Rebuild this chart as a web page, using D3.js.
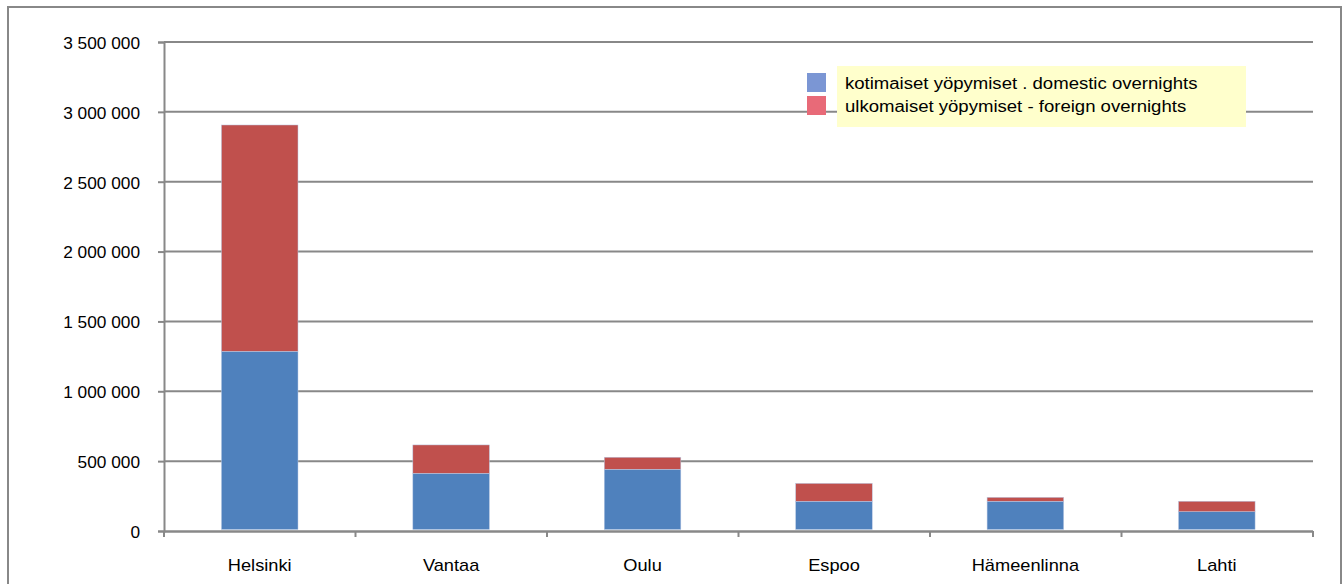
<!DOCTYPE html>
<html>
<head>
<meta charset="utf-8">
<script src="https://cdn.jsdelivr.net/npm/d3@7"></script>
<style>
  body { margin: 0; background: #fff; }
  text { font-family: "Liberation Sans", Arial, sans-serif; fill: #000; }
</style>
</head>
<body>
<script>
var width = 1343, height = 584;

// data
var cities = ["Helsinki", "Vantaa", "Oulu", "Espoo", "Hämeenlinna", "Lahti"];
var domestic = [1286000, 413000, 442000, 213000, 213000, 138000];
var foreign = [1620000, 203000, 86000, 128000, 28000, 75000];
var yTicks = [0, 500000, 1000000, 1500000, 2000000, 2500000, 3000000, 3500000];
var seriesNames = ["kotimaiset yöpymiset . domestic overnights", "ulkomaiset yöpymiset - foreign overnights"];

var margin = {left: 164, right: 30, top: 42, bottom: 53};

var svg = d3.select("body")
  .append("svg")
  .attr("width", width)
  .attr("height", height);

// outer frame
svg.append("rect")
  .attr("x", 8).attr("y", 7)
  .attr("width", 1333).attr("height", 600)
  .attr("fill", "none")
  .attr("stroke", "#888")
  .attr("stroke-width", 2);

var x = d3.scaleBand()
  .domain(cities)
  .range([margin.left, width - margin.right - 0.5])
  .paddingInner(0.6)
  .paddingOuter(0.3);

var y = d3.scaleLinear()
  .domain([0, 3500000])
  .range([height - margin.bottom, margin.top]);

// gridlines
svg.append("g")
  .selectAll("line")
  .data(yTicks.slice(1))
  .enter()
  .append("line")
  .attr("x1", margin.left)
  .attr("x2", width - margin.right)
  .attr("y1", function(d) { return y(d); })
  .attr("y2", function(d) { return y(d); })
  .attr("stroke", "#888")
  .attr("stroke-width", 2);

// stacked bars
var rows = cities.map(function(c, i) {
  return {city: c, domestic: domestic[i], foreign: foreign[i]};
});
var stack = d3.stack().keys(["domestic", "foreign"])(rows);
var colors = ["#4F81BD", "#C0504D"];

svg.append("g")
  .selectAll("g")
  .data(stack)
  .enter()
  .append("g")
  .attr("fill", function(d, i) { return colors[i]; })
  .selectAll("rect")
  .data(function(d) { return d; })
  .enter()
  .append("rect")
  .attr("x", function(d) { return x(d.data.city); })
  .attr("width", x.bandwidth())
  .attr("y", function(d) { return y(d[1]); })
  .attr("height", function(d) { return y(d[0]) - y(d[1]) - (d[0] === 0 ? 1.5 : 0); })
  .attr("stroke", "#b9c9e4")
  .attr("stroke-width", 0.5);

// the original text is a bit stretched sideways
var sxY = 1.08, sxX = 1.14, sxL = 1.16;

// y axis
var yAxis = d3.axisLeft(y)
  .tickValues(yTicks)
  .tickSize(6)
  .tickPadding(0)
  .tickFormat(function(d) { return d3.format(",")(d).replace(/,/g, " "); });

var gy = svg.append("g")
  .attr("transform", "translate(" + margin.left + ",0)")
  .call(yAxis);
gy.select(".domain").attr("stroke", "#888").attr("stroke-width", 2);
gy.selectAll(".tick line").attr("stroke", "#888").attr("stroke-width", 2);
gy.selectAll("text")
  .style("font-size", "16px")
  .attr("fill", "#000")
  .attr("x", 0)
  .attr("dy", "0.4em")
  .attr("transform", "translate(-24,0) scale(" + sxY + ",1)");

// x axis
var band = (width - margin.right - margin.left) / cities.length;
var xAxis = d3.axisBottom(x).tickSize(0).tickPadding(0);
var gx = svg.append("g")
  .attr("transform", "translate(0," + y(0) + ")")
  .call(xAxis);
gx.select(".domain").attr("stroke", "#888").attr("stroke-width", 2.5);
gx.selectAll("text")
  .style("font-size", "16px")
  .attr("fill", "#000")
  .attr("y", 0)
  .attr("dy", 0)
  .attr("transform", "translate(0,40) scale(" + sxX + ",1)");

// x tick marks between categories
svg.append("g")
  .selectAll("line")
  .data(d3.range(cities.length + 1))
  .enter()
  .append("line")
  .attr("x1", function(i) { return margin.left + i * band; })
  .attr("x2", function(i) { return margin.left + i * band; })
  .attr("y1", y(0))
  .attr("y2", y(0) + 6)
  .attr("stroke", "#888")
  .attr("stroke-width", 2);

// legend
var legend = svg.append("g");
legend.append("rect")
  .attr("x", 837).attr("y", 66)
  .attr("width", 409).attr("height", 61)
  .attr("fill", "#FFFFCC");
var legendColors = ["#7B96D4", "#E86A78"];
legend.selectAll(".sw")
  .data(seriesNames)
  .enter()
  .append("rect")
  .attr("x", 807)
  .attr("y", function(d, i) { return 73 + i * 23; })
  .attr("width", 19).attr("height", 19)
  .attr("fill", function(d, i) { return legendColors[i]; });
legend.selectAll("text")
  .data(seriesNames)
  .enter()
  .append("text")
  .attr("transform", function(d, i) { return "translate(845," + (89 + i * 23) + ") scale(" + sxL + ",1)"; })
  .style("font-size", "16px")
  .text(function(d) { return d; });
</script>
</body>
</html>
